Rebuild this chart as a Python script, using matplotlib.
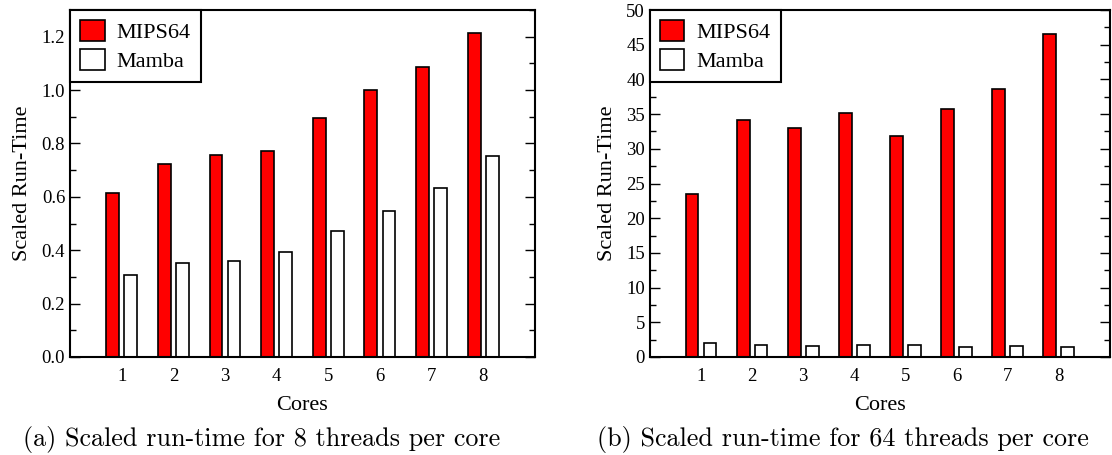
import numpy as np
import matplotlib
matplotlib.use("Agg")
import matplotlib.pyplot as plt
from matplotlib.ticker import MultipleLocator

cores = [1, 2, 3, 4, 5, 6, 7, 8]

# 8 threads per core
mips_8 = [0.614, 0.723, 0.755, 0.773, 0.895, 1.001, 1.087, 1.215]
mamba_8 = [0.307, 0.351, 0.359, 0.395, 0.472, 0.548, 0.633, 0.753]

# 64 threads per core
mips_64 = [23.5, 34.1, 33.0, 35.2, 31.8, 35.8, 38.6, 46.6]
mamba_64 = [2.0, 1.7, 1.6, 1.7, 1.7, 1.45, 1.6, 1.5]

captions = ["(a) Scaled run-time for 8 threads per core",
            "(b) Scaled run-time for 64 threads per core"]

plt.rcParams['font.family'] = ['Liberation Serif', 'DejaVu Serif']

fig = plt.figure(figsize=(11.12, 4.55), dpi=100)
ax1 = fig.add_axes([0.063, 0.2154, 0.418, 0.7626])
ax2 = fig.add_axes([0.5845, 0.2154, 0.4135, 0.7626])

x = np.array(cores)
w = 0.25
off = 0.175


def draw(ax, mips, mamba, ymax, major, minor, fmt):
    ax.bar(x - off, mips, w, color='#ff0000', edgecolor='black', linewidth=1.2, label='MIPS64')
    ax.bar(x + off, mamba, w, color='white', edgecolor='black', linewidth=1.2, label='Mamba')
    ax.set_xlim(0, 9)
    ax.set_ylim(0, ymax)
    ax.set_xticks(cores)
    ax.yaxis.set_major_locator(MultipleLocator(major))
    ax.yaxis.set_minor_locator(MultipleLocator(minor))
    ax.yaxis.set_major_formatter(fmt)
    ax.tick_params(axis='y', which='both', direction='in', left=True, right=True, labelsize=13.5)
    ax.tick_params(axis='y', which='major', length=7, width=1)
    ax.tick_params(axis='y', which='minor', length=4, width=1)
    ax.tick_params(axis='x', length=0, labelsize=13.5, pad=8)
    for s in ax.spines.values():
        s.set_linewidth(1.5)
    ax.set_xlabel('Cores', fontsize=16, labelpad=8)
    ax.set_ylabel('Scaled Run-Time', fontsize=16, labelpad=7)
    leg = ax.legend(loc='upper left', fontsize=16, frameon=True, fancybox=False,
                    borderaxespad=0, handlelength=1.1, handleheight=1.1,
                    handletextpad=0.55, borderpad=0.45, labelspacing=0.25)
    leg.get_frame().set_edgecolor('black')
    leg.get_frame().set_linewidth(1.5)
    leg.get_frame().set_alpha(1)


draw(ax1, mips_8, mamba_8, 1.3, 0.2, 0.1, '{x:.1f}')
draw(ax2, mips_64, mamba_64, 50, 5, 2.5, '{x:.0f}')

fig.text(0.235, 0.033, captions[0], family='cmr10', fontsize=18.8, ha='center', va='center')
fig.text(0.758, 0.033, captions[1], family='cmr10', fontsize=18.8, ha='center', va='center')

fig.savefig('out.png', dpi=100)
